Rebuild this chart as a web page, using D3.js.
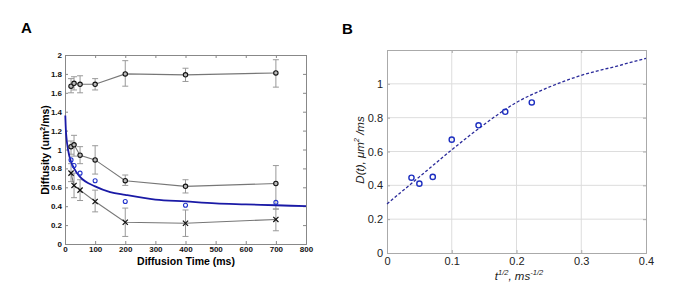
<!DOCTYPE html>
<html>
<head>
<meta charset="utf-8">
<script src="https://cdn.jsdelivr.net/npm/d3@7"></script>
<style>
  body { margin: 0; background: #fff; }
  svg { display: block; font-family: "Liberation Sans", Arial, sans-serif; }
</style>
</head>
<body>
<div id="chart"></div>
<script>
// Panel A data (diffusion time in ms)
var times = [20, 30, 50, 100, 200, 400, 700];
var topVals = [1.67, 1.70, 1.69, 1.69, 1.80, 1.79, 1.81];
var topLo = [1.60, 1.63, 1.60, 1.63, 1.67, 1.72, 1.66];
var topHi = [1.75, 1.77, 1.78, 1.75, 1.94, 1.86, 1.95];
var midVals = [1.03, 1.05, 0.94, 0.89, 0.67, 0.61, 0.64];
var midLo = [0.95, 0.93, 0.85, 0.74, 0.62, 0.54, 0.37];
var midHi = [1.09, 1.15, 1.03, 1.04, 0.73, 0.68, 0.83];
var lowVals = [0.75, 0.62, 0.57, 0.45, 0.23, 0.22, 0.26];
var lowLo = [0.66, 0.49, 0.46, 0.34, 0.08, 0.08, 0.14];
var lowHi = [0.85, 0.75, 0.68, 0.57, 0.38, 0.36, 0.37];
var blueVals = [0.89, 0.83, 0.75, 0.67, 0.45, 0.41, 0.44];
var fitTimes = [1, 3, 5, 10, 20, 30, 50, 100, 150, 200, 300, 400, 500, 600, 700, 800];
var fitVals = [1.36, 1.20, 1.12, 1.00, 0.87, 0.80, 0.71, 0.61, 0.55, 0.52, 0.47, 0.45, 0.43, 0.42, 0.41, 0.40];
var xTicksA = [0, 100, 200, 300, 400, 500, 600, 700, 800];
var yTicksA = [0, 0.2, 0.4, 0.6, 0.8, 1, 1.2, 1.4, 1.6, 1.8, 2];

// Panel B data (t^-1/2)
var invT = [0.2236, 0.1826, 0.1414, 0.1, 0.0707, 0.05, 0.0378];
var bVals = [0.89, 0.835, 0.755, 0.67, 0.45, 0.41, 0.445];
var bFitX = [0, 0.05, 0.1, 0.15, 0.2, 0.25, 0.3, 0.35, 0.4];
var bFitY = [0.29, 0.45, 0.61, 0.76, 0.89, 0.98, 1.05, 1.10, 1.15];
var xTicksB = [0, 0.1, 0.2, 0.3, 0.4];
var yTicksB = [0, 0.2, 0.4, 0.6, 0.8, 1];

var svg = d3.select('#chart').append('svg')
  .attr('width', 675).attr('height', 308);

// ---------- Panel A ----------
var xA = d3.scaleLinear().domain([0, 800]).range([65, 306]);
var yA = d3.scaleLinear().domain([0, 2]).range([244, 55]);
var gA = svg.append('g');

svg.append('text').attr('x', 21).attr('y', 33)
  .style('font-size', '15px').style('font-weight', 'bold').text('A');

// axes: inward ticks on all sides
gA.append('g').attr('transform', 'translate(0,244)')
  .call(d3.axisBottom(xA).tickValues(xTicksA).tickSize(-3).tickPadding(2))
  .call(g => g.selectAll('text').style('font-size', '8px').style('font-weight', 'bold'));
gA.append('g').attr('transform', 'translate(0,55)')
  .call(d3.axisTop(xA).tickValues(xTicksA).tickSize(-3).tickFormat(''));
gA.append('g').attr('transform', 'translate(65,0)')
  .call(d3.axisLeft(yA).tickValues(yTicksA).tickSize(-3).tickPadding(3).tickFormat(d3.format('~g')))
  .call(g => g.selectAll('text').style('font-size', '8px').style('font-weight', 'bold'));
gA.append('g').attr('transform', 'translate(306,0)')
  .call(d3.axisRight(yA).tickValues(yTicksA).tickSize(-3).tickFormat(''));
gA.selectAll('.domain').attr('stroke', '#888');
gA.selectAll('.tick line').attr('stroke', '#888');
gA.selectAll('text').attr('fill', '#111');

function errorBars(lo, hi) {
  times.forEach(function (t, i) {
    var x = xA(t);
    gA.append('line').attr('x1', x).attr('x2', x).attr('y1', yA(lo[i])).attr('y2', yA(hi[i]))
      .attr('stroke', '#999').attr('stroke-width', 1);
    [lo[i], hi[i]].forEach(function (v) {
      gA.append('line').attr('x1', x - 3).attr('x2', x + 3).attr('y1', yA(v)).attr('y2', yA(v))
        .attr('stroke', '#999').attr('stroke-width', 1);
    });
  });
}
errorBars(topLo, topHi);
errorBars(midLo, midHi);
errorBars(lowLo, lowHi);

var lineA = d3.line().x(d => xA(d[0])).y(d => yA(d[1]));
[topVals, midVals, lowVals].forEach(function (vals) {
  gA.append('path').datum(times.map((t, i) => [t, vals[i]]))
    .attr('d', lineA).attr('fill', 'none').attr('stroke', '#777').attr('stroke-width', 1.1);
});

// fit curve
gA.append('path').datum(fitTimes.map((t, i) => [t, fitVals[i]]))
  .attr('d', lineA.curve(d3.curveMonotoneX)).attr('fill', 'none')
  .attr('stroke', '#1a1aa6').attr('stroke-width', 1.8);

// markers
[topVals, midVals].forEach(function (vals) {
  gA.selectAll(null).data(times.map((t, i) => [t, vals[i]])).enter().append('circle')
    .attr('cx', d => xA(d[0])).attr('cy', d => yA(d[1])).attr('r', 2.2)
    .attr('fill', '#bbb').attr('stroke', '#111').attr('stroke-width', 1.1);
});
gA.selectAll(null).data(times.map((t, i) => [t, lowVals[i]])).enter().append('path')
  .attr('d', d => {
    var x = xA(d[0]), y = yA(d[1]), s = 2.6;
    return 'M' + (x - s) + ',' + (y - s) + 'L' + (x + s) + ',' + (y + s) +
      'M' + (x - s) + ',' + (y + s) + 'L' + (x + s) + ',' + (y - s);
  })
  .attr('stroke', '#111').attr('stroke-width', 1.2);
gA.selectAll(null).data(times.map((t, i) => [t, blueVals[i]])).enter().append('circle')
  .attr('cx', d => xA(d[0])).attr('cy', d => yA(d[1])).attr('r', 2)
  .attr('fill', 'none').attr('stroke', '#2233cc').attr('stroke-width', 1.1);

// axis titles
svg.append('text').attr('x', 186).attr('y', 265).attr('text-anchor', 'middle')
  .style('font-size', '10.5px').style('font-weight', 'bold').text('Diffusion Time (ms)');
var yl = svg.append('text').attr('transform', 'translate(49,150) rotate(-90)')
  .attr('text-anchor', 'middle').style('font-size', '10.5px').style('font-weight', 'bold');
yl.append('tspan').text('Diffusity (um');
yl.append('tspan').attr('dy', -4).style('font-size', '7px').text('2');
yl.append('tspan').attr('dy', 4).text('/ms)');

// ---------- Panel B ----------
var xB = d3.scaleLinear().domain([0, 0.4]).range([387, 646]);
var yB = d3.scaleLinear().domain([0, 1.2]).range([253, 50]);
var gB = svg.append('g');

svg.append('text').attr('x', 342).attr('y', 34)
  .style('font-size', '15px').style('font-weight', 'bold').text('B');

// grid
gB.selectAll(null).data(xTicksB.slice(1, -1)).enter().append('line')
  .attr('x1', d => xB(d)).attr('x2', d => xB(d)).attr('y1', 50).attr('y2', 253)
  .attr('stroke', '#ddd');
gB.selectAll(null).data(yTicksB.slice(1)).enter().append('line')
  .attr('x1', 387).attr('x2', 646).attr('y1', d => yB(d)).attr('y2', d => yB(d))
  .attr('stroke', '#ddd');

gB.append('g').attr('transform', 'translate(0,253)')
  .call(d3.axisBottom(xB).tickValues(xTicksB).tickSize(-3).tickPadding(4).tickFormat(d3.format('~g')))
  .call(g => g.selectAll('text').style('font-size', '11px'));
gB.append('g').attr('transform', 'translate(0,50)')
  .call(d3.axisTop(xB).tickValues(xTicksB).tickSize(-3).tickFormat(''));
gB.append('g').attr('transform', 'translate(387,0)')
  .call(d3.axisLeft(yB).tickValues(yTicksB).tickSize(-3).tickPadding(4).tickFormat(d3.format('~g')))
  .call(g => g.selectAll('text').style('font-size', '11px'));
gB.append('g').attr('transform', 'translate(646,0)')
  .call(d3.axisRight(yB).tickValues(yTicksB).tickSize(-3).tickFormat(''));
gB.selectAll('.domain').attr('stroke', '#aaa');
gB.selectAll('.tick line').attr('stroke', '#aaa');
gB.selectAll('text').attr('fill', '#222');

var lineB = d3.line().x(d => xB(d[0])).y(d => yB(d[1])).curve(d3.curveMonotoneX);
gB.append('path').datum(bFitX.map((x, i) => [x, bFitY[i]]))
  .attr('d', lineB).attr('fill', 'none').attr('stroke', '#2a2a9a')
  .attr('stroke-width', 1.3).attr('stroke-dasharray', '3,2');

gB.selectAll(null).data(invT.map((x, i) => [x, bVals[i]])).enter().append('circle')
  .attr('cx', d => xB(d[0])).attr('cy', d => yB(d[1])).attr('r', 2.6)
  .attr('fill', 'none').attr('stroke', '#1d2fc0').attr('stroke-width', 1.4);

// axis titles
var xl = svg.append('text').attr('x', 519).attr('y', 280).attr('text-anchor', 'middle')
  .style('font-size', '11.5px').style('font-style', 'italic').attr('fill', '#222');
xl.append('tspan').text('t');
xl.append('tspan').attr('dy', -5).style('font-size', '7.5px').text('1/2');
xl.append('tspan').attr('dy', 5).text(', ms');
xl.append('tspan').attr('dy', -5).style('font-size', '7.5px').text('-1/2');

var ylB = svg.append('text').attr('transform', 'translate(364,150) rotate(-90)')
  .attr('text-anchor', 'middle').style('font-size', '11.5px').style('font-style', 'italic').attr('fill', '#222');
ylB.append('tspan').text('D(t), μm');
ylB.append('tspan').attr('dy', -5).style('font-size', '7.5px').text('2');
ylB.append('tspan').attr('dy', 5).text(' /ms');
</script>
</body>
</html>
